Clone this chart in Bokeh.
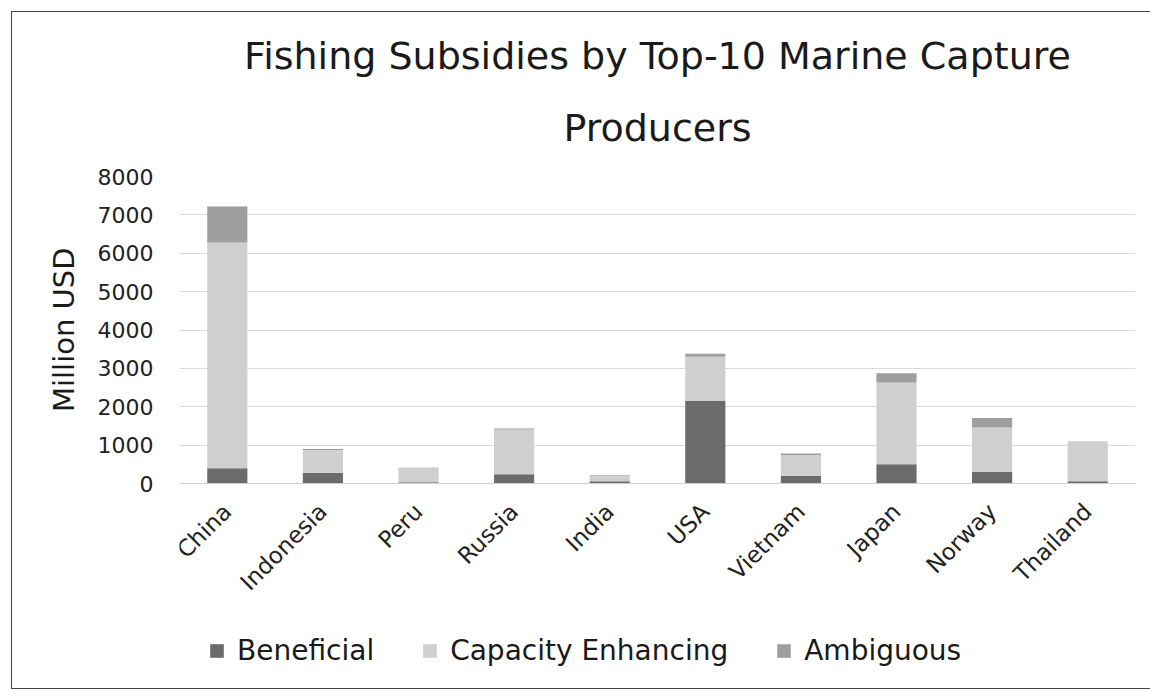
from bokeh.plotting import figure
from bokeh.models import ColumnDataSource, Legend, LegendItem, Title
from bokeh.embed import file_html
from bokeh.resources import INLINE
from math import pi

countries = ["China", "Indonesia", "Peru", "Russia", "India", "USA", "Vietnam", "Japan", "Norway", "Thailand"]
beneficial = [400, 280, 30, 240, 60, 2150, 200, 500, 300, 60]
capacity_enhancing = [5880, 590, 370, 1170, 150, 1150, 540, 2130, 1160, 1040]
ambiguous = [940, 30, 10, 20, 10, 80, 40, 240, 250, 0]
series = ["Beneficial", "Capacity Enhancing", "Ambiguous"]
y_ticks = [0, 1000, 2000, 3000, 4000, 5000, 6000, 7000, 8000]
title_lines = ["Fishing Subsidies by Top-10 Marine Capture", "Producers"]
y_label = "Million USD"

colors = ["#6b6b6b", "#cfcfcf", "#9e9e9e"]
FONT = "DejaVu Sans"

src = ColumnDataSource(dict(country=countries, Beneficial=beneficial,
                            **{"Capacity Enhancing": capacity_enhancing},
                            Ambiguous=ambiguous))

# the plotting frame extends below zero so that the category labels and
# legend can live inside it (value axis runs 0..8000 only)
y_max = 8000
y_min = -y_max * 203 / 307

p = figure(x_range=countries, y_range=(y_min, y_max),
           frame_width=956, frame_height=510,
           output_backend="svg", toolbar_location=None,
           min_border_left=167, min_border_right=15, min_border_top=164, min_border_bottom=2)
p.styles = {"border": "1.5px solid #444", "box-sizing": "border-box",
            "margin-left": "11px", "margin-top": "11px"}

# outer title line
p.title.text = title_lines[0]
p.title.align = "center"
p.title.text_font = FONT
p.title.text_font_size = "38px"
p.title.text_font_style = "normal"
p.title.text_color = "#1a1a1a"
p.title.standoff = 0
# inner title line (closest to the frame)
second = Title(text=title_lines[1], align="center", text_font=FONT, text_font_size="38px",
               text_font_style="normal", text_color="#1a1a1a", standoff=53,
               text_line_height=1.9)
p.add_layout(second, "above")

renderers = p.vbar_stack(series, x="country", width=0.42, color=colors, source=src, line_color=None)

p.xgrid.grid_line_color = None
p.ygrid.grid_line_color = "#d9d9d9"
p.ygrid.grid_line_width = 1
p.ygrid.ticker = y_ticks
p.outline_line_color = None

p.yaxis.ticker = y_ticks
p.yaxis.bounds = (0, y_max)
p.yaxis.axis_line_color = None
p.yaxis.major_tick_line_color = None
p.yaxis.minor_tick_line_color = None
p.yaxis.major_label_text_font = FONT
p.yaxis.major_label_text_font_size = "22px"
p.yaxis.major_label_text_color = "#222222"
p.yaxis.major_label_standoff = 20

# value-axis title, aligned with the 0..8000 part of the frame
ytitle = Title(text=y_label, align="right", offset=71, text_font=FONT, text_font_size="29px",
               text_font_style="normal", text_color="#1a1a1a", standoff=27)
p.add_layout(ytitle, "left")

p.xaxis.fixed_location = 0
p.xaxis.axis_line_color = "#d0d0d0"
p.xaxis.major_tick_line_color = None
p.xaxis.minor_tick_line_color = None
p.xaxis.major_label_orientation = pi / 4
p.xaxis.major_label_text_font = FONT
p.xaxis.major_label_text_font_size = "23px"
p.xaxis.major_label_text_color = "#222222"
p.xaxis.major_label_standoff = 18

legend = Legend(items=[LegendItem(label=s, renderers=[r]) for s, r in zip(series, renderers)],
                orientation="horizontal", location=(29, 19))
legend.label_text_font = FONT
legend.label_text_font_size = "28px"
legend.label_text_color = "#1a1a1a"
legend.glyph_width = 17
legend.glyph_height = 17
legend.spacing = 47
legend.label_standoff = 12
legend.border_line_color = None
legend.background_fill_alpha = 0
legend.margin = 0
legend.padding = 0
p.add_layout(legend, "center")

open("out.html", "w").write(file_html(p, INLINE))
